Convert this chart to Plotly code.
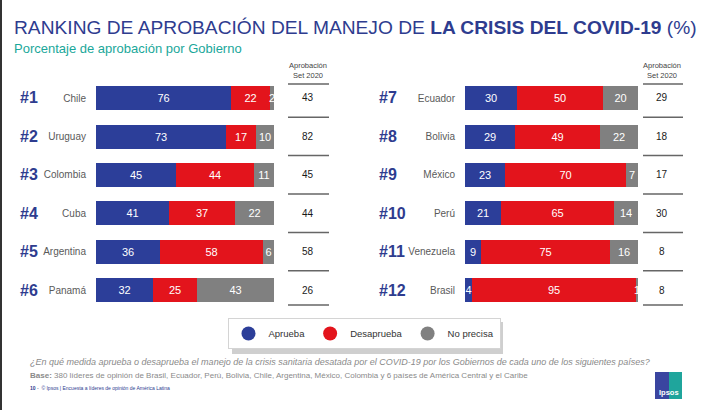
import plotly.graph_objects as go

# ---------------- data ----------------
left_ranks = ["#1", "#2", "#3", "#4", "#5", "#6"]
left_countries = ["Chile", "Uruguay", "Colombia", "Cuba", "Argentina", "Panamá"]
left_aprueba = [76, 73, 45, 41, 36, 32]
left_desaprueba = [22, 17, 44, 37, 58, 25]
left_noprecisa = [2, 10, 11, 22, 6, 43]
left_set2020 = [43, 82, 45, 44, 58, 26]

right_ranks = ["#7", "#8", "#9", "#10", "#11", "#12"]
right_countries = ["Ecuador", "Bolivia", "México", "Perú", "Venezuela", "Brasil"]
right_aprueba = [30, 29, 23, 21, 9, 4]
right_desaprueba = [50, 49, 70, 65, 75, 95]
right_noprecisa = [20, 22, 7, 14, 16, 1]
right_set2020 = [29, 18, 17, 30, 8, 8]

series_names = ["Aprueba", "Desaprueba", "No precisa"]
series_colors = ["#2c3e99", "#e3141c", "#808080"]

W, H = 705, 410
FONT = "Liberation Sans"
NAVY = "#2e3c8f"


def px(x):
    return x / W


def py(y):
    return 1 - y / H


fig = go.Figure()

panels = [
    ("x", "y", left_countries, [left_aprueba, left_desaprueba, left_noprecisa]),
    ("x2", "y2", right_countries, [right_aprueba, right_desaprueba, right_noprecisa]),
]
for xa, ya, countries, series in panels:
    rows = list(range(len(countries)))
    for name, color, vals in zip(series_names, series_colors, series):
        fig.add_trace(go.Bar(
            orientation="h", x=vals, y=rows, name=name,
            xaxis=xa, yaxis=ya, width=0.625,
            marker=dict(color=color, line=dict(width=0)),
            text=vals, textposition="inside", insidetextanchor="middle",
            textangle=0, textfont=dict(color="white", size=11, family=FONT),
            showlegend=False, hoverinfo="skip",
        ))

# legend entries (circles)
for name, color in zip(series_names, series_colors):
    fig.add_trace(go.Scatter(
        x=[None], y=[None], mode="markers", name=name,
        marker=dict(size=14, color=color, symbol="circle"),
        xaxis="x", yaxis="y", showlegend=True,
    ))

ytop, ybot = py(78.8), py(309.2)
axis_common = dict(range=[5.5, -0.5], tickmode="array", tickvals=list(range(6)),
                   showgrid=False, zeroline=False, showline=False, ticks="",
                   tickfont=dict(size=10, color="#5a5a5a", family=FONT),
                   ticklabelstandoff=9, domain=[ybot, ytop], fixedrange=True)
fig.update_layout(
    width=W, height=H, margin=dict(l=0, r=0, t=0, b=0),
    paper_bgcolor="white", plot_bgcolor="white",
    barmode="stack", bargap=0,
    font=dict(family=FONT),
    uniformtext=dict(minsize=11, mode="show"),
    xaxis=dict(domain=[px(96), px(274)], range=[0, 100], visible=False, fixedrange=True),
    xaxis2=dict(domain=[px(465), px(638)], range=[0, 100], visible=False, anchor="y2", fixedrange=True),
    yaxis=dict(anchor="x", ticktext=left_countries, **axis_common),
    yaxis2=dict(anchor="x2", ticktext=right_countries, **axis_common),
    legend=dict(orientation="h", x=px(364), xanchor="center", y=py(318), yanchor="top",
                traceorder="normal",
                bgcolor="white", bordercolor="#d4d4d4", borderwidth=1,
                font=dict(size=9.5, color="#333", family=FONT), itemsizing="trace",
                itemwidth=30, tracegroupgap=0,
                itemclick=False, itemdoubleclick=False),
)

ann = []
shapes = []

# title + subtitle
ann.append(dict(text="RANKING DE APROBACIÓN DEL MANEJO DE <b>LA CRISIS DEL COVID-19</b> (%)",
                x=px(12), y=py(27), xref="paper", yref="paper", xanchor="left", yanchor="middle",
                showarrow=False, font=dict(size=19.2, color=NAVY, family=FONT)))
ann.append(dict(text="Porcentaje de aprobación por Gobierno",
                x=px(12), y=py(48), xref="paper", yref="paper", xanchor="left", yanchor="middle",
                showarrow=False, font=dict(size=13, color="#1aa79a", family=FONT)))

side = [
    ("y", left_ranks, left_set2020, 18, 308, 288, 329),
    ("y2", right_ranks, right_set2020, 377, 662, 643, 683),
]
for yref, ranks, setv, rank_x, val_x, l0, l1 in side:
    for i, (r, v) in enumerate(zip(ranks, setv)):
        ann.append(dict(text=f"<b>{r}</b>", x=px(rank_x), y=i, xref="paper", yref=yref,
                        xanchor="left", yanchor="middle", showarrow=False,
                        font=dict(size=16, color=NAVY, family=FONT)))
        ann.append(dict(text=str(v), x=px(val_x), y=i, xref="paper", yref=yref,
                        xanchor="center", yanchor="middle", showarrow=False,
                        font=dict(size=10, color="#1a1a1a", family=FONT)))
    ann.append(dict(text="Aprobación<br>Set 2020", x=px(val_x), y=py(70), xref="paper", yref="paper",
                    xanchor="center", yanchor="middle", showarrow=False,
                    font=dict(size=7.5, color="#444", family=FONT)))
    for yy in [-0.365, 0.5, 1.5, 2.5, 3.5, 4.5, 5.39]:
        shapes.append(dict(type="line", xref="paper", yref=yref, x0=px(l0), x1=px(l1), y0=yy, y1=yy,
                           line=dict(color="#666", width=1.5)))

# footnotes
ann.append(dict(text="¿En qué medida aprueba o desaprueba el manejo de la crisis sanitaria desatada por el COVID-19 por los Gobiernos de cada uno de los siguientes países?",
                x=px(28), y=py(362), xref="paper", yref="paper", xanchor="left", yanchor="middle",
                showarrow=False, font=dict(size=9, color="#8a8a8a", family=FONT, style="italic")))
ann.append(dict(text="<b>Base:</b> 380 líderes de opinión de Brasil, Ecuador, Perú, Bolivia, Chile, Argentina, México, Colombia y 6 países de América Central y el Caribe",
                x=px(28), y=py(375), xref="paper", yref="paper", xanchor="left", yanchor="middle",
                showarrow=False, font=dict(size=8, color="#8a8a8a", family=FONT)))
ann.append(dict(text="<b>10</b> -  © Ipsos | Encuesta a líderes de opinión de América Latina",
                x=px(28), y=py(388), xref="paper", yref="paper", xanchor="left", yanchor="middle",
                showarrow=False, font=dict(size=5, color=NAVY, family=FONT)))

# Ipsos logo
shapes.append(dict(type="rect", xref="paper", yref="paper", x0=px(655), x1=px(669), y0=py(399), y1=py(372),
                   fillcolor="#3a45a0", line=dict(width=0)))
shapes.append(dict(type="rect", xref="paper", yref="paper", x0=px(669), x1=px(682), y0=py(399), y1=py(372),
                   fillcolor="#1fa59c", line=dict(width=0)))
ann.append(dict(text="<b>Ipsos</b>", x=px(668.5), y=py(392), xref="paper", yref="paper",
                xanchor="center", yanchor="middle", showarrow=False,
                font=dict(size=7.5, color="white", family=FONT)))

# legend shadow
shapes.append(dict(type="rect", xref="paper", yref="paper", x0=px(232), x1=px(503), y0=py(354), y1=py(322),
                   fillcolor="#cfcfcf", line=dict(width=0), layer="above"))

# left border
shapes.append(dict(type="line", xref="paper", yref="paper", x0=px(1), x1=px(1), y0=0, y1=1,
                   line=dict(color="#333", width=2)))

fig.update_layout(annotations=ann, shapes=shapes)
fig.write_html("out.html", config={"displayModeBar": False},
               post_script="document.body.style.margin='0';document.body.style.overflow='hidden';")
